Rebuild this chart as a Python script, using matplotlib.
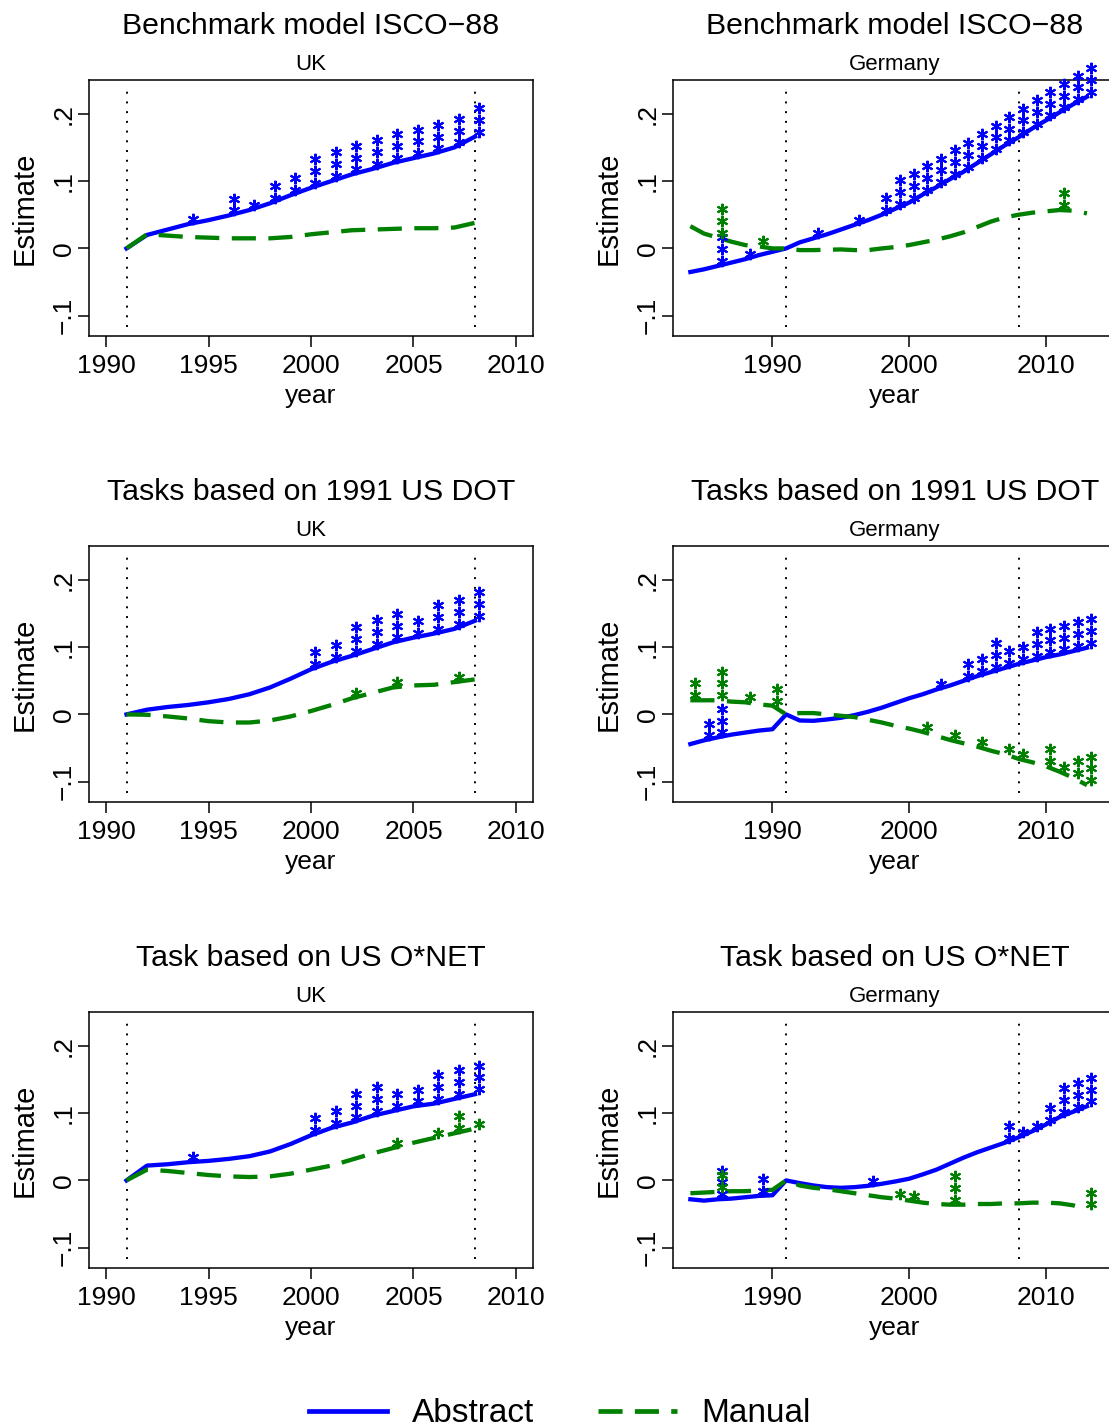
import matplotlib
matplotlib.use("Agg")
import matplotlib.pyplot as plt
from matplotlib.lines import Line2D
from matplotlib.transforms import offset_copy

plt.rcParams['font.family'] = ['Liberation Sans', 'DejaVu Sans']

# years covered by each country
uk_years = list(range(1991, 2009))
de_years = list(range(1984, 2014))

# UK estimates
uk_isco_abstract = [0.000, 0.020, 0.028, 0.036, 0.042, 0.049, 0.057, 0.067, 0.079,
                    0.090, 0.100, 0.110, 0.118, 0.127, 0.134, 0.141, 0.150, 0.166]
uk_isco_manual = [0.000, 0.021, 0.019, 0.017, 0.016, 0.015, 0.015, 0.015, 0.017,
                  0.021, 0.024, 0.027, 0.028, 0.029, 0.030, 0.030, 0.031, 0.038]
uk_dot_abstract = [0.000, 0.007, 0.011, 0.014, 0.018, 0.023, 0.030, 0.040, 0.053,
                   0.067, 0.078, 0.087, 0.097, 0.107, 0.114, 0.120, 0.127, 0.139]
uk_dot_manual = [0.000, -0.0005, -0.003, -0.006, -0.010, -0.012, -0.012, -0.009, -0.003,
                 0.005, 0.014, 0.024, 0.032, 0.040, 0.043, 0.044, 0.048, 0.052]
uk_onet_abstract = [0.000, 0.022, 0.024, 0.027, 0.029, 0.032, 0.036, 0.043, 0.054,
                    0.067, 0.078, 0.086, 0.096, 0.103, 0.110, 0.114, 0.121, 0.128]
uk_onet_manual = [0.000, 0.016, 0.014, 0.011, 0.008, 0.006, 0.005, 0.006, 0.010,
                  0.016, 0.022, 0.031, 0.040, 0.048, 0.056, 0.063, 0.070, 0.077]

# Germany estimates
de_isco_abstract = [-0.035, -0.031, -0.026, -0.021, -0.016, -0.010, -0.005, 0.000,
                    0.009, 0.015, 0.021, 0.028, 0.035, 0.042, 0.050, 0.059, 0.068,
                    0.080, 0.091, 0.103, 0.114, 0.127, 0.140, 0.153, 0.165, 0.178,
                    0.190, 0.202, 0.214, 0.225]
de_isco_manual = [0.033, 0.022, 0.016, 0.010, 0.005, 0.003, 0.000, 0.000,
                  -0.0025, -0.0025, -0.002, -0.0015, -0.0025, -0.0025, 0.000, 0.002,
                  0.005, 0.009, 0.013, 0.018, 0.024, 0.032, 0.040, 0.046, 0.050,
                  0.053, 0.055, 0.057, 0.056, 0.052]
de_dot_abstract = [-0.044, -0.0385, -0.034, -0.030, -0.027, -0.024, -0.022, 0.000,
                   -0.009, -0.0095, -0.0075, -0.005, -0.001, 0.004, 0.010, 0.017,
                   0.024, 0.030, 0.037, 0.043, 0.050, 0.057, 0.063, 0.069, 0.075,
                   0.080, 0.085, 0.089, 0.094, 0.099]
de_dot_manual = [0.021, 0.021, 0.021, 0.019, 0.018, 0.015, 0.013, 0.000,
                 0.002, 0.002, 0.000, -0.002, -0.004, -0.008, -0.012, -0.017,
                 -0.021, -0.026, -0.032, -0.038, -0.043, -0.048, -0.054, -0.059,
                 -0.066, -0.071, -0.077, -0.085, -0.094, -0.105]
de_onet_abstract = [-0.028, -0.030, -0.028, -0.027, -0.025, -0.023, -0.022, 0.000,
                    -0.004, -0.0075, -0.010, -0.011, -0.010, -0.008, -0.005, -0.0015,
                    0.0025, 0.009, 0.016, 0.025, 0.034, 0.042, 0.049, 0.056, 0.064,
                    0.073, 0.083, 0.094, 0.102, 0.110]
de_onet_manual = [-0.019, -0.018, -0.017, -0.016, -0.016, -0.015, -0.014, 0.000,
                  -0.0075, -0.011, -0.013, -0.016, -0.019, -0.022, -0.025, -0.027,
                  -0.030, -0.033, -0.035, -0.036, -0.036, -0.035, -0.035, -0.034,
                  -0.034, -0.033, -0.033, -0.034, -0.037, -0.043]

# significance stars per year (0 = none, 1 = *, 2 = **, 3 = ***)
uk_isco_abstract_stars = [0, 0, 0, 1, 0, 2, 1, 2, 2, 3, 3, 3, 3, 3, 3, 3, 3, 3]
uk_isco_manual_stars = [0, 0, 0, 0, 0, 0, 0, 0, 0, 0, 0, 0, 0, 0, 0, 0, 0, 0]
uk_dot_abstract_stars = [0, 0, 0, 0, 0, 0, 0, 0, 0, 2, 2, 3, 3, 3, 2, 3, 3, 3]
uk_dot_manual_stars = [0, 0, 0, 0, 0, 0, 0, 0, 0, 0, 0, 1, 0, 1, 0, 0, 1, 0]
uk_onet_abstract_stars = [0, 0, 0, 1, 0, 0, 0, 0, 0, 2, 2, 3, 3, 2, 2, 3, 3, 3]
uk_onet_manual_stars = [0, 0, 0, 0, 0, 0, 0, 0, 0, 0, 0, 0, 0, 1, 0, 1, 2, 1]

de_isco_abstract_stars = [0, 0, 3, 0, 1, 0, 0, 0, 0, 1, 0, 0, 1, 0, 2,
                          3, 3, 3, 3, 3, 3, 3, 3, 3, 3, 3, 3, 3, 3, 3]
de_isco_manual_stars = [0, 0, 3, 0, 0, 1, 0, 0, 0, 0, 0, 0, 0, 0, 0,
                        0, 0, 0, 0, 0, 0, 0, 0, 0, 0, 0, 0, 2, 0, 0]
de_dot_abstract_stars = [0, 2, 3, 0, 0, 0, 0, 0, 0, 0, 0, 0, 0, 0, 0,
                         0, 0, 0, 1, 0, 2, 2, 3, 2, 2, 3, 3, 3, 3, 3]
de_dot_manual_stars = [2, 0, 3, 0, 1, 0, 2, 0, 0, 0, 0, 0, 0, 0, 0,
                       0, 0, 1, 0, 1, 0, 1, 0, 1, 1, 0, 2, 1, 2, 3]
de_onet_abstract_stars = [0, 0, 3, 0, 0, 2, 0, 0, 0, 0, 0, 0, 0, 1, 0,
                          0, 0, 0, 0, 0, 0, 0, 0, 2, 1, 1, 2, 3, 3, 3]
de_onet_manual_stars = [0, 0, 2, 0, 0, 0, 0, 0, 0, 0, 0, 0, 0, 0, 0,
                        1, 1, 0, 0, 3, 0, 0, 0, 0, 0, 0, 0, 0, 0, 2]

titles = ["Benchmark model ISCO\u221288", "Tasks based on 1991 US DOT", "Task based on US O*NET"]
countries = ["UK", "Germany"]
ytick_vals = [-0.1, 0, 0.1, 0.2]
ytick_labels = ["\u2212.1", "0", ".1", ".2"]
uk_xticks = [1990, 1995, 2000, 2005, 2010]
de_xticks = [1990, 2000, 2010]
ref_years = [1991, 2008]

BLUE = '#0000ff'
GREEN = '#008000'
DASH = (5.6, 2.9)

W, H = 1109, 1427
fig = plt.figure(figsize=(W / 100, H / 100), dpi=100)


def panel(px_left, px_top):
    return fig.add_axes([px_left / W, (H - px_top - 256) / H, 444 / W, 256 / H])


def stars(ax, years, vals, counts, color):
    for k in range(3):
        xs = [x for x, c in zip(years, counts) if c > k]
        ys = [v for v, c in zip(vals, counts) if c > k]
        tr = offset_copy(ax.transData, fig=fig, x=4.5, y=5 + 11.8 * k, units='dots')
        ax.plot(xs, ys, ls='none', marker=(6, 2, 0), ms=8.2, mew=1.5,
                color=color, transform=tr, clip_on=False, zorder=4)


rows = [
    (uk_isco_abstract, uk_isco_manual, uk_isco_abstract_stars, uk_isco_manual_stars,
     de_isco_abstract, de_isco_manual, de_isco_abstract_stars, de_isco_manual_stars),
    (uk_dot_abstract, uk_dot_manual, uk_dot_abstract_stars, uk_dot_manual_stars,
     de_dot_abstract, de_dot_manual, de_dot_abstract_stars, de_dot_manual_stars),
    (uk_onet_abstract, uk_onet_manual, uk_onet_abstract_stars, uk_onet_manual_stars,
     de_onet_abstract, de_onet_manual, de_onet_abstract_stars, de_onet_manual_stars),
]
row_tops = [80, 546, 1012]

for r, (title, top, data) in enumerate(zip(titles, row_tops, rows)):
    for c in range(2):
        ax = panel(89 if c == 0 else 673, top)
        if c == 0:
            years = uk_years
            abst, man, abst_s, man_s = data[0:4]
            ax.set_xlim(1989.17, 2010.83)
            ax.set_xticks(uk_xticks)
        else:
            years = de_years
            abst, man, abst_s, man_s = data[4:8]
            ax.set_xlim(1982.73, 2015.2)
            ax.set_xticks(de_xticks)
        ax.set_ylim(-0.13, 0.25)

        for xv in ref_years:
            ax.axvline(xv, ymin=0.035, ymax=0.977, color='black', lw=1.4,
                       dashes=(1, 4), zorder=1)

        ax.plot(years, abst, color=BLUE, lw=3.1, zorder=3)
        ax.plot(years, man, color=GREEN, lw=3.1, dashes=DASH, zorder=3)
        stars(ax, years, abst, abst_s, BLUE)
        stars(ax, years, man, man_s, GREEN)

        ax.set_yticks(ytick_vals)
        ax.set_yticklabels(ytick_labels)
        ax.tick_params(axis='both', direction='out', length=8, width=1.1,
                       labelsize=19, colors='black')
        ax.tick_params(axis='x', pad=5)
        ax.tick_params(axis='y', pad=5.3)
        for lbl in ax.get_yticklabels():
            lbl.set_rotation(90)
            lbl.set_rotation_mode('anchor')
            lbl.set_ha('center')
            lbl.set_va('baseline')
        for sp in ax.spines.values():
            sp.set_linewidth(1.1)

        ax.annotate(title, xy=(0.5, 1), xycoords='axes fraction',
                    xytext=(0, 46 * 0.72), textcoords='offset points',
                    ha='center', va='baseline', fontsize=21.8)
        ax.annotate(countries[c], xy=(0.5, 1), xycoords='axes fraction',
                    xytext=(0, 10 * 0.72), textcoords='offset points',
                    ha='center', va='baseline', fontsize=16)
        ax.annotate('year', xy=(0.5, 0), xycoords='axes fraction',
                    xytext=(0, -67 * 0.72), textcoords='offset points',
                    ha='center', va='baseline', fontsize=19)
        ax.annotate('Estimate', xy=(0, 0.5), xycoords='axes fraction',
                    xytext=(-56 * 0.72, 0), textcoords='offset points',
                    rotation=90, rotation_mode='anchor',
                    ha='center', va='baseline', fontsize=21)

handles = [Line2D([], [], color=BLUE, lw=3.4),
           Line2D([], [], color=GREEN, lw=3.4, dashes=(5.1, 2.6))]
fig.legend(handles, ['Abstract', 'Manual'], loc='center',
           bbox_to_anchor=(560 / W, 13 / H), ncol=2, frameon=False,
           fontsize=24, handlelength=78 / 33.3, handletextpad=25 / 33.3,
           columnspacing=64 / 33.3, borderpad=0, borderaxespad=0)

fig.savefig('out.png', dpi=100)
